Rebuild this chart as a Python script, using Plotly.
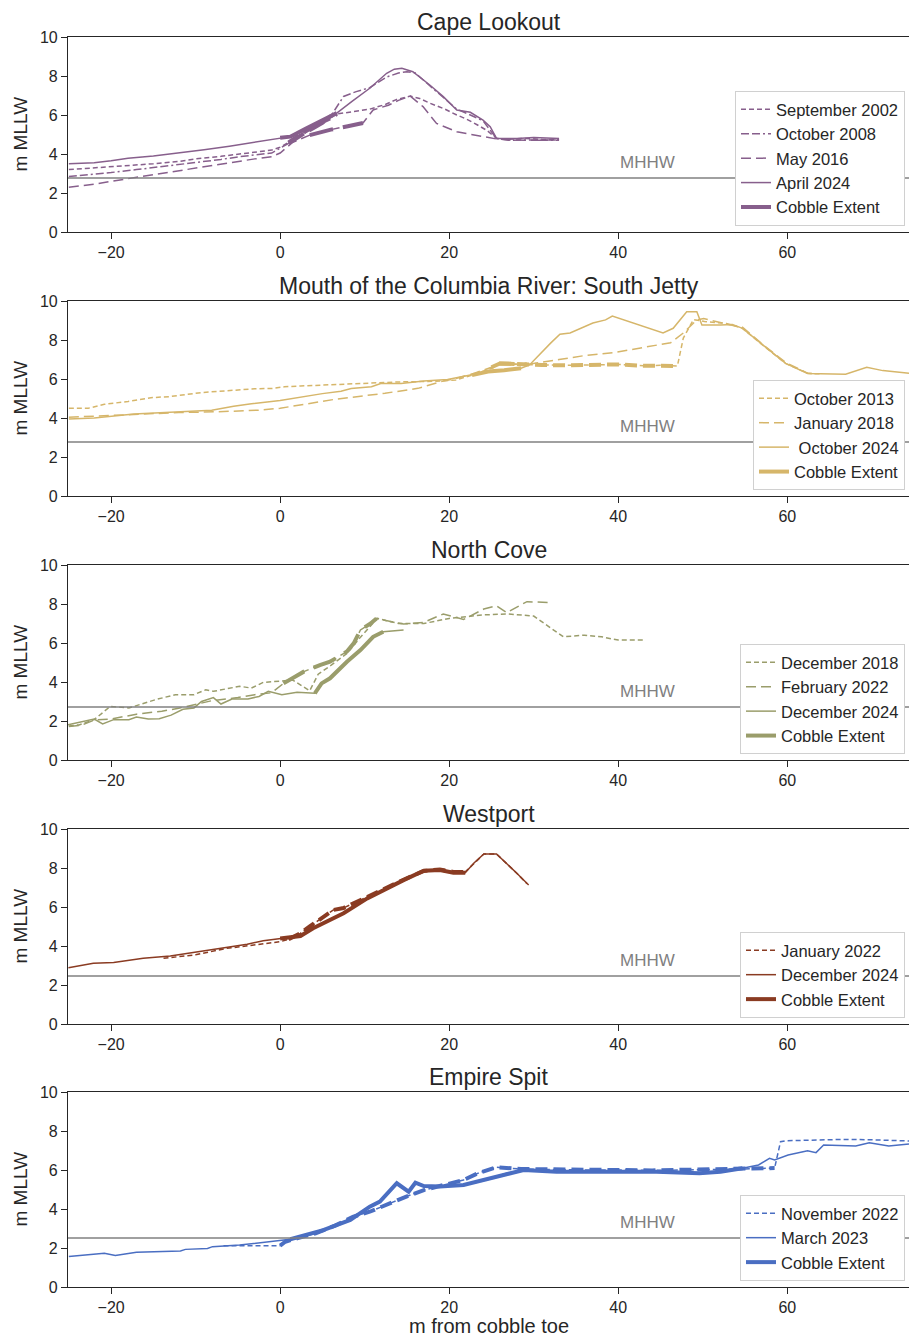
import plotly.graph_objects as go

# ---------------- DATA ----------------
site_names = ["Cape Lookout", "Mouth of the Columbia River: South Jetty", "North Cove", "Westport", "Empire Spit"]
site_colors = ["#875F8C", "#D6B66A", "#9A9D6B", "#8A3B22", "#4A6EC2"]
mhhw_levels = [2.77, 2.77, 2.72, 2.46, 2.51]

# Cape Lookout
cl_sep2002_x = [-25, -22, -20, -17, -15, -12, -10, -7, -5, -3, -1, 0, 1, 2, 3, 4, 5, 6, 6.7, 8.5, 10.6, 12.5, 13.8, 15.4, 16.5, 17.75, 19.5, 20.9, 22, 23.3, 24.5, 25.6, 27, 29, 31, 33]
cl_sep2002_y = [3.2, 3.28, 3.35, 3.42, 3.5, 3.62, 3.75, 3.88, 3.98, 4.08, 4.2, 4.35, 4.6, 4.9, 5.15, 5.45, 5.65, 5.85, 6.05, 6.15, 6.3, 6.55, 6.8, 6.97, 6.85, 6.6, 6.3, 6.0, 5.8, 5.5, 5.2, 4.8, 4.75, 4.8, 4.75, 4.75]
cl_oct2008_x = [-25, -22, -20, -17, -15, -12, -10, -7, -5, -3, -1, 0, 1, 2, 3, 4, 5, 6, 7.5, 9, 10.6, 12.6, 14, 15, 16, 17.7, 19.3, 20.9, 22.5, 24, 25.6, 27, 29, 31, 33]
cl_oct2008_y = [2.85, 2.95, 3.05, 3.2, 3.3, 3.45, 3.55, 3.72, 3.85, 3.95, 4.05, 4.3, 4.55, 4.85, 5.1, 5.35, 5.6, 5.95, 6.95, 7.2, 7.4, 7.95, 8.15, 8.22, 8.15, 7.5, 6.9, 6.3, 6.0, 5.7, 4.8, 4.7, 4.72, 4.7, 4.7]
cl_may2016_x = [-25, -22, -20, -17, -15, -12, -10, -7, -5, -3, -1, 0, 1.5, 3.5, 6, 8, 9.8, 11, 12.8, 14, 15.4, 16.9, 18.5, 20.9, 23.3, 25.6, 29, 33]
cl_may2016_y = [2.3, 2.45, 2.6, 2.8, 2.95, 3.15, 3.3, 3.48, 3.62, 3.75, 3.86, 4.05, 4.6, 4.97, 5.25, 5.42, 5.59, 6.26, 6.5, 6.75, 6.97, 6.43, 5.57, 5.14, 4.97, 4.77, 4.7, 4.72]
cl_apr2024_x = [-25, -22, -20, -18, -15, -12, -9, -6, -3, -1, 0, 1.2, 3, 5, 6.7, 8.5, 10.6, 12.6, 13.5, 14.4, 15.7, 17.7, 19.3, 20.9, 22.5, 24, 24.85, 25.6, 28, 30, 33]
cl_apr2024_y = [3.5, 3.55, 3.65, 3.78, 3.9, 4.05, 4.22, 4.4, 4.6, 4.75, 4.83, 4.89, 5.3, 5.75, 6.1, 6.7, 7.37, 8.14, 8.35, 8.4, 8.22, 7.54, 6.94, 6.26, 6.14, 5.74, 5.4, 4.8, 4.8, 4.85, 4.8]

# Mouth of the Columbia River: South Jetty
mc_oct2013_x = [-25, -22.7, -20.8, -18, -15.3, -13, -9.4, -7, -5.5, -3, -0.8, 0.5, 2.4, 6, 10.3, 14, 18.2, 20.8, 22.7, 24.5, 25.3, 25.9, 28, 31, 34, 37, 40, 43, 45, 47, 47.7, 48.9, 50.2, 52.8, 54.7, 57.3, 59.8, 62.4, 64]
mc_oct2013_y = [4.5, 4.5, 4.7, 4.85, 5.04, 5.1, 5.3, 5.38, 5.43, 5.5, 5.52, 5.6, 5.64, 5.7, 5.78, 5.85, 5.88, 5.95, 6.2, 6.45, 6.6, 6.8, 6.75, 6.72, 6.7, 6.72, 6.75, 6.68, 6.7, 6.67, 8.1, 9.05, 8.95, 8.85, 8.6, 7.66, 6.8, 6.29, 6.26]
mc_jan2018_x = [-25, -21, -17.3, -12, -7.3, -2.2, 0, 2.5, 6.5, 12.4, 16.3, 19, 21, 23, 25, 26, 29.2, 33, 36, 39.4, 43, 46.2, 47.7, 49.3, 50.1, 51.5, 53, 54.7, 57.3, 59.8, 62.4, 63.5]
mc_jan2018_y = [4.04, 4.12, 4.2, 4.28, 4.32, 4.41, 4.5, 4.67, 4.96, 5.27, 5.52, 5.86, 6.05, 6.3, 6.6, 6.8, 6.75, 7.0, 7.2, 7.35, 7.6, 7.86, 8.36, 9.03, 9.1, 8.95, 8.8, 8.65, 7.7, 6.85, 6.3, 6.27]
mc_oct2024_x = [-25, -22, -17.3, -12, -8.1, -5.5, -3.4, 0, 2.5, 5, 7.2, 8.4, 10.8, 11.9, 14.3, 17, 19.8, 22.7, 24.6, 26.5, 28.5, 29.5, 30.4, 32, 33.1, 34.3, 37, 38.5, 39.3, 42, 45.3, 46.5, 48.1, 49.3, 49.9, 52.1, 53.5, 54.7, 57.3, 59.8, 62.4, 66.9, 69.4, 71.3, 74.4]
mc_oct2024_y = [3.95, 4.0, 4.2, 4.3, 4.4, 4.6, 4.73, 4.9, 5.08, 5.25, 5.37, 5.51, 5.6, 5.77, 5.77, 5.9, 5.98, 6.2, 6.38, 6.45, 6.55, 6.72, 7.14, 7.84, 8.3, 8.36, 8.87, 9.03, 9.23, 8.85, 8.36, 8.6, 9.45, 9.45, 8.77, 8.77, 8.8, 8.6, 7.66, 6.8, 6.28, 6.24, 6.6, 6.43, 6.29]

# North Cove
nc_dec2018_x = [-25, -23.8, -22, -20.1, -17.9, -14.7, -12.4, -10.2, -8.8, -7.9, -4.8, -3.4, -2, 0.2, 1.5, 3.5, 4.5, 6, 8, 9.5, 11, 11.5, 14, 17, 20, 24, 27, 30, 33.5, 36, 38, 40, 43]
nc_dec2018_y = [1.75, 1.8, 2.07, 2.75, 2.67, 3.1, 3.35, 3.35, 3.6, 3.52, 3.78, 3.69, 3.98, 4.05, 4.1, 3.55, 4.4, 4.85, 5.5, 6.3, 7.0, 7.26, 7.0, 7.0, 7.26, 7.44, 7.49, 7.38, 6.32, 6.4, 6.32, 6.15, 6.15]
nc_feb2022_x = [-25, -23.5, -22, -20, -17, -14, -12, -10, -8, -5, -3, -1, 0.4, 2.8, 4.7, 5.9, 7.9, 8.7, 9.5, 10.7, 11.4, 12.5, 14.6, 17, 19.3, 21.7, 24.1, 25.6, 26.8, 29.2, 32]
nc_feb2022_y = [1.72, 1.78, 2.05, 2.1, 2.35, 2.5, 2.65, 2.85, 3.05, 3.2, 3.35, 3.45, 3.93, 4.53, 4.87, 5.04, 5.56, 5.98, 6.67, 7.0, 7.26, 7.15, 6.97, 7.06, 7.49, 7.21, 7.74, 7.91, 7.56, 8.12, 8.07]
nc_dec2024_x = [-25.1, -23.3, -22, -21, -19.7, -17.9, -17, -15.6, -14.3, -12.9, -11.5, -10.2, -9.3, -7.9, -7, -5.7, -3.8, -2.5, -1.4, 0.2, 2, 4.1, 4.9, 5.9, 7.9, 9.5, 11, 12.2, 14.6]
nc_dec2024_y = [1.81, 1.98, 2.1, 1.85, 2.07, 2.07, 2.2, 2.1, 2.12, 2.3, 2.6, 2.67, 3.0, 3.2, 2.87, 3.13, 3.13, 3.26, 3.52, 3.35, 3.47, 3.42, 3.93, 4.19, 5.04, 5.64, 6.32, 6.58, 6.67]

# Westport
wp_jan2022_x = [-13.8, -10, -6.3, -3, 0, 1, 2.4, 3.5, 5.1, 6.3, 7.5, 8.5, 10.3, 12.2, 14.6, 17, 18.9, 20.5, 21.9, 22.9, 24.1, 25.6, 26.8, 28, 29.2]
wp_jan2022_y = [3.37, 3.55, 3.88, 4.05, 4.22, 4.35, 4.65, 5.0, 5.5, 5.85, 5.95, 6.15, 6.48, 6.9, 7.4, 7.85, 7.92, 7.8, 7.8, 8.24, 8.72, 8.72, 8.24, 7.73, 7.2]
wp_dec2024_x = [-25.05, -22.1, -19.7, -16.2, -13, -9.5, -6.3, -3.9, -2, 0, 2.4, 3.9, 7.5, 10.3, 12.2, 14.6, 17, 18.9, 20.5, 21.9, 22.9, 24.1, 25.6, 26.8, 28, 29.4]
wp_dec2024_y = [2.89, 3.11, 3.15, 3.37, 3.49, 3.71, 3.93, 4.09, 4.27, 4.39, 4.51, 4.91, 5.68, 6.44, 6.87, 7.38, 7.86, 7.9, 7.76, 7.76, 8.24, 8.72, 8.72, 8.24, 7.73, 7.13]

# Empire Spit
es_nov2022_x = [-6.7, -3, 0, 0.6, 2, 4.2, 6.5, 8.6, 10.6, 13, 15, 17, 19.5, 21.7, 23.5, 25.6, 28.5, 32, 36, 40, 44, 48, 52, 55, 58.5, 59.2, 59.8, 63, 66.9, 70, 74.4]
es_nov2022_y = [2.12, 2.12, 2.12, 2.32, 2.5, 2.75, 3.15, 3.6, 3.86, 4.3, 4.65, 4.97, 5.25, 5.49, 5.85, 6.14, 6.05, 6.02, 6.0, 6.0, 5.98, 6.0, 6.02, 6.05, 6.1, 7.45, 7.5, 7.52, 7.57, 7.55, 7.49]
es_mar2023_x = [-25, -20.8, -19.5, -17, -11.8, -11.2, -8.6, -8, -4.8, -1.6, 0, 1.2, 2.9, 5.1, 8.3, 10.6, 11.8, 13.8, 15.2, 16, 17, 18.9, 21.7, 24.8, 26.8, 28.8, 32.7, 38.1, 44.5, 49.6, 52.1, 54.7, 56.6, 57.9, 58.5, 60.1, 62.4, 63.4, 64.3, 68.1, 69.7, 72, 74.4]
es_mar2023_y = [1.56, 1.73, 1.61, 1.78, 1.85, 1.93, 1.98, 2.07, 2.15, 2.32, 2.41, 2.45, 2.67, 2.92, 3.44, 4.12, 4.38, 5.32, 4.89, 5.35, 5.18, 5.15, 5.23, 5.57, 5.83, 6.0, 5.91, 5.91, 5.91, 5.83, 5.91, 6.09, 6.26, 6.6, 6.51, 6.77, 6.99, 6.89, 7.28, 7.23, 7.4, 7.23, 7.33]

# surveys per site: (label, x, y, style, cobble start, cobble end)
surveys = [
    [("September 2002", cl_sep2002_x, cl_sep2002_y, "short", 0.5, 6.7),
     ("October 2008", cl_oct2008_x, cl_oct2008_y, "dashdot", 1.0, 6.0),
     ("May 2016", cl_may2016_x, cl_may2016_y, "long", 3.5, 9.8),
     ("April 2024", cl_apr2024_x, cl_apr2024_y, "solid", 0.0, 6.7)],
    [("October 2013", mc_oct2013_x, mc_oct2013_y, "short", 25.5, 47.0),
     ("January 2018", mc_jan2018_x, mc_jan2018_y, "long", 24.5, 29.5),
     (" October 2024", mc_oct2024_x, mc_oct2024_y, "solid", 22.0, 29.0)],
    [("December 2018", nc_dec2018_x, nc_dec2018_y, "short", None, None),
     ("February 2022", nc_feb2022_x, nc_feb2022_y, "long", 0.4, 11.4),
     ("December 2024", nc_dec2024_x, nc_dec2024_y, "solid", 4.1, 12.2)],
    [("January 2022", wp_jan2022_x, wp_jan2022_y, "short", 0.5, 21.9),
     ("December 2024", wp_dec2024_x, wp_dec2024_y, "solid", 0.0, 21.9)],
    [("November 2022", es_nov2022_x, es_nov2022_y, "short", 0.0, 58.5),
     ("March 2023", es_mar2023_x, es_mar2023_y, "solid", 1.0, 55.0)],
]

x_tick_vals = [-20, 0, 20, 40, 60]
y_tick_vals = [0, 2, 4, 6, 8, 10]

# ---------------- STYLE ----------------
W, H = 909, 1336
FONT = "Liberation Sans, Arial, sans-serif"
INK = "#262626"
panel_px = [(37, 232), (301, 496), (565, 760), (829, 1024), (1092, 1287)]
thin_dash = {"short": "5px,3px", "dashdot": "8px,3px,8px,3px,2px,3px", "long": "10px,5px", "solid": "solid"}
thick_dash = {"short": "12px,6px", "dashdot": "18px,6px,18px,6px,4px,6px", "long": "24px,10px", "solid": "solid"}

fig = go.Figure()
layout = dict(width=W, height=H, margin=dict(l=0, r=0, t=0, b=0, pad=0, autoexpand=False),
              paper_bgcolor="white", plot_bgcolor="white",
              font=dict(family=FONT, color=INK), annotations=[], shapes=[])

xd = [68 / W, 1.0]
for k in range(5):
    n = k + 1
    top, bot = panel_px[k]
    yd = [1 - bot / H, 1 - top / H]
    ax = "" if n == 1 else str(n)
    leg = "legend" if n == 1 else "legend%d" % n
    col = site_colors[k]
    for (lab, xs, ys, sty, c0, c1) in surveys[k]:
        fig.add_trace(go.Scatter(x=xs, y=ys, mode="lines", name=lab,
                                 line=dict(color=col, width=1.5, dash=thin_dash[sty]),
                                 xaxis="x" + ax, yaxis="y" + ax, legend=leg))
    for (lab, xs, ys, sty, c0, c1) in surveys[k]:
        if c0 is None:
            continue
        cx = [a for a, b in zip(xs, ys) if c0 <= a <= c1]
        cy = [b for a, b in zip(xs, ys) if c0 <= a <= c1]
        fig.add_trace(go.Scatter(x=cx, y=cy, mode="lines", showlegend=False,
                                 line=dict(color=col, width=4, dash=thick_dash[sty]),
                                 xaxis="x" + ax, yaxis="y" + ax))
    fig.add_trace(go.Scatter(x=[None], y=[None], mode="lines", name="Cobble Extent",
                             line=dict(color=col, width=4),
                             xaxis="x" + ax, yaxis="y" + ax, legend=leg))

    layout["xaxis" + ax] = dict(domain=xd, anchor="y" + ax, range=[-25.1, 74.4],
                                tickvals=x_tick_vals, ticks="outside", ticklen=6, tickwidth=1.2,
                                tickcolor=INK, showline=True, linecolor=INK, linewidth=1.2,
                                mirror=True, showgrid=False, zeroline=False, automargin=False,
                                tickfont=dict(size=16, color=INK, family=FONT))
    layout["yaxis" + ax] = dict(domain=yd, anchor="x" + ax, range=[0, 10],
                                tickvals=y_tick_vals, ticks="outside", ticklen=6, tickwidth=1.2,
                                tickcolor=INK, showline=True, linecolor=INK, linewidth=1.2,
                                showgrid=False, zeroline=False, automargin=False,
                                tickfont=dict(size=16, color=INK, family=FONT))
    layout[leg] = dict(x=905 / W, xanchor="right", y=1 - (bot - 6) / H, yanchor="bottom",
                       bgcolor="white", bordercolor="#d0d0d0", borderwidth=1,
                       font=dict(size=16.5, color=INK, family=FONT), tracegroupgap=2)
    # MHHW line and label
    layout["shapes"].append(dict(type="line", xref="paper",
                                 yref="y" + ax, x0=xd[0], x1=1.0,
                                 y0=mhhw_levels[k], y1=mhhw_levels[k],
                                 line=dict(color="#808080", width=1.5)))
    layout["annotations"].append(dict(x=40, y=mhhw_levels[k], xref="x" + ax, yref="y" + ax,
                                      text="MHHW", showarrow=False, xanchor="left", yanchor="bottom",
                                      yshift=4, font=dict(size=17, color="#808080", family=FONT)))
    # title
    layout["annotations"].append(dict(x=(xd[0] + 1) / 2, y=1 - top / H, xref="paper", yref="paper",
                                      text=site_names[k], showarrow=False, xanchor="center",
                                      yanchor="bottom", yshift=0,
                                      font=dict(size=23, color=INK, family=FONT)))
    # y label
    layout["annotations"].append(dict(x=20 / W, y=1 - (top + bot) / 2 / H, xref="paper", yref="paper",
                                      text="m MLLW", showarrow=False, textangle=-90,
                                      xanchor="center", yanchor="middle",
                                      font=dict(size=19, color=INK, family=FONT)))

layout["annotations"].append(dict(x=(xd[0] + 1) / 2, y=1 - 1326 / H, xref="paper", yref="paper",
                                  text="m from cobble toe", showarrow=False, xanchor="center",
                                  yanchor="middle", font=dict(size=20, color=INK, family=FONT)))

fig.update_layout(**layout)
fig.write_html("out.html", config={"displayModeBar": False},
               post_script="document.body.style.margin='0';document.body.style.overflow='hidden';")
